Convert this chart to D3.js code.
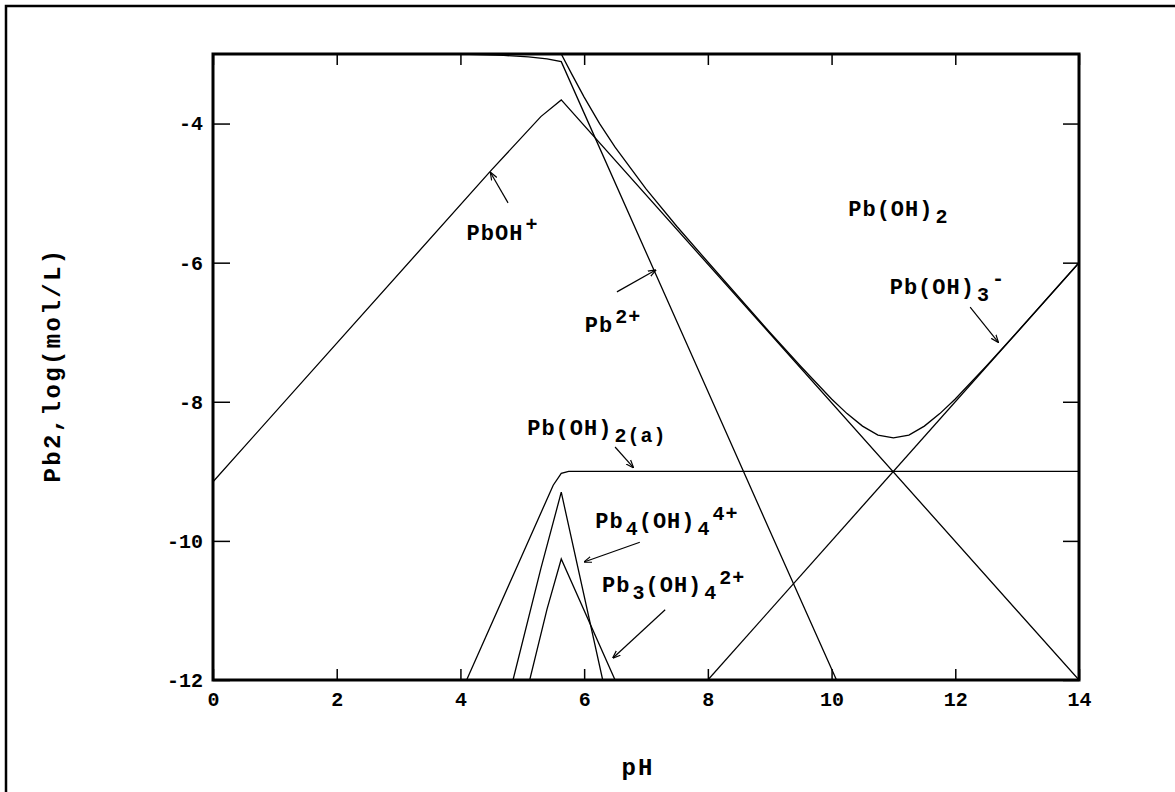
<!DOCTYPE html>
<html>
<head>
<meta charset="utf-8">
<script src="https://cdn.jsdelivr.net/npm/d3@7"></script>
<style>
  body { margin: 0; background: #fff; }
  text { font-family: 'Liberation Mono', monospace; font-weight: bold; fill: #000; }
</style>
</head>
<body>
<div class="canvas"></div>
<script>
// species curves, pH vs log concentration
const pHTotal = [0, 5.63, 5.8, 6.0, 6.25, 6.5, 7.0, 7.5, 8.0, 9.0, 9.5, 10.0, 10.25, 10.5, 10.75, 11.0, 11.25, 11.5, 11.75, 12.0, 12.5, 13.0, 14.0]
const logTotal = [-3, -3, -3.29, -3.62, -4.0, -4.34, -4.94, -5.48, -5.99, -7.0, -7.49, -7.96, -8.17, -8.35, -8.48, -8.52, -8.48, -8.35, -8.17, -7.96, -7.49, -7.0, -6.0]

const pHPb2 = [0, 4.0, 4.7, 5.1, 5.4, 5.63, 6.0, 7.0, 8.0, 9.0, 10.08]
const logPb2 = [-3, -3.0, -3.02, -3.04, -3.07, -3.11, -3.85, -5.85, -7.85, -9.85, -12]

const pHPbOH = [0, 4.5, 5.3, 5.63, 14]
const logPbOH = [-9.15, -4.67, -3.9, -3.66, -12]

const pHPbOH2aq = [4.1, 4.9, 5.5, 5.63, 5.75, 14]
const logPbOH2aq = [-12, -10.4, -9.2, -9.03, -9.0, -9.0]

const pHPbOH3 = [8, 14]
const logPbOH3 = [-12, -6]

const pHPb4 = [4.85, 5.3, 5.63, 6.3]
const logPb4 = [-12, -10.4, -9.3, -12]

const pHPb3 = [5.12, 5.4, 5.63, 6.5]
const logPb3 = [-12, -10.98, -10.26, -12]

const series = [
    [pHTotal, logTotal],
    [pHPb2, logPb2],
    [pHPbOH, logPbOH],
    [pHPbOH2aq, logPbOH2aq],
    [pHPbOH3, logPbOH3],
    [pHPb4, logPb4],
    [pHPb3, logPb3]
]

const xTicks = [0, 2, 4, 6, 8, 10, 12, 14]
const yTicks = [-4, -6, -8, -10, -12]

// labels: parts are [text, shift] where shift 0 = normal, 1 = sub, -1 = sup
const labels = [
    {at: [4.1, -5.68], parts: [['PbOH', 0], ['+', -1]], arrow: [[4.77, -5.14], [4.49, -4.71]]},
    {at: [6.01, -7.0], parts: [['Pb', 0], ['2+', -1]], arrow: [[6.53, -6.42], [7.15, -6.11]]},
    {at: [10.27, -5.33], parts: [['Pb(OH)', 0], ['2', 1]]},
    {at: [10.94, -6.45], parts: [['Pb(OH)', 0], ['3', 1], ['-', -1]], arrow: [[12.24, -6.64], [12.69, -7.14]]},
    {at: [5.08, -8.48], parts: [['Pb(OH)', 0], ['2(a)', 1]], arrow: [[6.5, -8.65], [6.79, -8.94]]},
    {at: [6.18, -9.81], parts: [['Pb', 0], ['4', 1], ['(OH)', 0], ['4', 1], ['4+', -2]], arrow: [[6.9, -10.02], [6.01, -10.3]]},
    {at: [6.29, -10.73], parts: [['Pb', 0], ['3', 1], ['(OH)', 0], ['4', 1], ['2+', -2]], arrow: [[7.31, -10.99], [6.47, -11.68]]}
]

const width = 1175
const height = 792
const margin = {top: 54, right: 96, bottom: 112, left: 213}
const graphWidth = width - margin.left - margin.right
const graphHeight = height - margin.top - margin.bottom

const svg = d3.select('.canvas')
    .append('svg')
    .attr('width', width)
    .attr('height', height)

// outer frame, only top and left edges show
svg.append('rect')
    .attr('x', 6)
    .attr('y', 6)
    .attr('width', width + 20)
    .attr('height', height + 20)
    .attr('fill', 'none')
    .attr('stroke', '#000')
    .attr('stroke-width', 2.5)

svg.append('defs').append('marker')
    .attr('id', 'head')
    .attr('viewBox', '0 -4 8 8')
    .attr('refX', 7)
    .attr('refY', 0)
    .attr('markerWidth', 8)
    .attr('markerHeight', 8)
    .attr('markerUnits', 'userSpaceOnUse')
    .attr('orient', 'auto')
    .append('path')
    .attr('d', 'M0,-3L8,0L0,3')
    .attr('fill', 'none')
    .attr('stroke', '#000')
    .attr('stroke-width', 1.2)

svg.select('defs').append('clipPath')
    .attr('id', 'clip')
    .append('rect')
    .attr('width', graphWidth)
    .attr('height', graphHeight)

const graph = svg.append('g')
    .attr('transform', `translate(${margin.left}, ${margin.top})`)

const x = d3.scaleLinear()
    .domain([0, 14])
    .range([0, graphWidth])

const y = d3.scaleLinear()
    .domain([-12, -3])
    .range([graphHeight, 0])

const line = d3.line()
    .x(d => x(d[0]))
    .y(d => y(d[1]))

graph.append('g')
    .attr('clip-path', 'url(#clip)')
    .selectAll('path')
    .data(series)
    .enter()
    .append('path')
    .attr('d', s => line(d3.zip(s[0], s[1])))
    .attr('fill', 'none')
    .attr('stroke', '#000')
    .attr('stroke-width', 1.3)

// axes, ticks pointing inward
const xAxis = d3.axisBottom(x).tickValues(xTicks).tickSize(-11).tickPadding(12).tickFormat(d3.format('d'))
const xAxisTop = d3.axisTop(x).tickValues(xTicks).tickSize(-11).tickFormat('')
const yAxis = d3.axisLeft(y).tickValues(yTicks).tickSize(-17).tickPadding(10).tickFormat(d => String(d).replace('\u2212', '-'))
const yAxisRight = d3.axisRight(y).tickValues(yTicks).tickSize(-16).tickFormat('')

const xAxisGroup = graph.append('g').attr('transform', `translate(0, ${graphHeight})`).call(xAxis)
const xTopGroup = graph.append('g').call(xAxisTop)
const yAxisGroup = graph.append('g').call(yAxis)
const yRightGroup = graph.append('g').attr('transform', `translate(${graphWidth}, 0)`).call(yAxisRight)

graph.selectAll('.domain').remove()
graph.selectAll('.tick line').attr('stroke', '#000').attr('stroke-width', 1.5)
graph.selectAll('.tick text')
    .attr('font-size', 20)
    .attr('font-family', 'Liberation Mono, monospace')
    .attr('font-weight', 'bold')
    .attr('fill', '#000')

graph.append('rect')
    .attr('width', graphWidth)
    .attr('height', graphHeight)
    .attr('fill', 'none')
    .attr('stroke', '#000')
    .attr('stroke-width', 3)

// species labels and arrows
labels.forEach(l => {
    const t = graph.append('text')
        .attr('x', x(l.at[0]))
        .attr('y', y(l.at[1]))
        .attr('font-size', 22)
        .attr('letter-spacing', 1)
    let shift = 0
    l.parts.forEach(p => {
        const target = p[1] === 1 ? 7 : p[1] === -1 ? -9 : p[1] === -2 ? -8 : 0
        t.append('tspan')
            .attr('dy', target - shift)
            .attr('dx', p[1] === 0 ? 0 : 2)
            .attr('font-size', p[1] === 0 ? 22 : 20)
            .text(p[0])
        shift = target
    })
    if (l.arrow) {
        graph.append('path')
            .attr('d', line(l.arrow))
            .attr('stroke', '#000')
            .attr('stroke-width', 1.2)
            .attr('fill', 'none')
            .attr('marker-end', 'url(#head)')
    }
})

// axis titles
svg.append('text')
    .attr('x', margin.left + x(7) - 8)
    .attr('y', 775)
    .attr('text-anchor', 'middle')
    .attr('font-size', 24)
    .attr('letter-spacing', 2)
    .text('pH')

svg.append('text')
    .attr('transform', `translate(60, 365) rotate(-90)`)
    .attr('text-anchor', 'middle')
    .attr('font-size', 24)
    .attr('letter-spacing', 2.4)
    .text('Pb2,log(mol/L)')
</script>
</body>
</html>
